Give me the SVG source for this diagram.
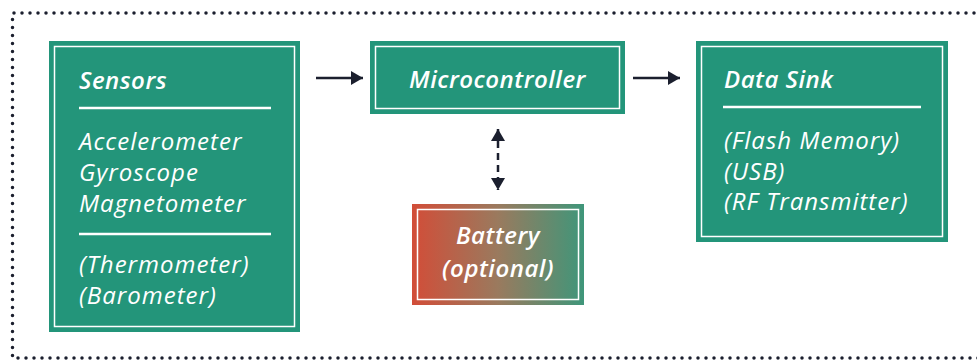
<svg xmlns="http://www.w3.org/2000/svg" width="977" height="360" viewBox="0 0 977 360">
  <defs>
    <linearGradient id="battGrad" x1="0" y1="0" x2="1" y2="0">
      <stop offset="0" stop-color="#d24d38"/>
      <stop offset="0.5" stop-color="#9a7a5e"/>
      <stop offset="1" stop-color="#3f967a"/>
    </linearGradient>
    <marker id="headBig" viewBox="0 0 12 14" refX="12" refY="7" markerWidth="12" markerHeight="14" markerUnits="userSpaceOnUse" orient="auto-start-reverse">
      <path d="M0,0 L12,7 L0,14 Z" fill="#1b1f2e"/>
    </marker>
  </defs>
  <style>
    .box { fill: #23957a; }
    .inner { fill: none; stroke: #ffffff; stroke-width: 1.5; }
    .rule { stroke: #ffffff; stroke-width: 2.5; }
    .title { font-family: "Open Sans", "Noto Sans", sans-serif; font-style: italic; font-weight: 600; font-size: 24px; letter-spacing: 0.5px; fill: #ffffff; }
    .item { font-family: "Open Sans", "Noto Sans", sans-serif; font-style: italic; font-weight: 400; font-size: 24px; letter-spacing: 1px; fill: #ffffff; }
    .frame { fill: none; stroke: #1b1f2e; stroke-width: 3.5; stroke-linecap: round; stroke-dasharray: 0 8; }
    .conn { fill: none; stroke: #1b1f2e; stroke-width: 2.5; }
    .dash { stroke-dasharray: 7 5; }
  </style>

  <!-- dotted outer frame -->
  <path class="frame" d="M990,13 L12.5,13 L12.5,358 L990,358"/>

  <!-- Sensors -->
  <g id="sensors">
    <rect class="box" x="49" y="41" width="251" height="291"/>
    <rect class="inner" x="54.5" y="46.5" width="240" height="280"/>
    <text class="title" x="79" y="89">Sensors</text>
    <line class="rule" x1="79" y1="108" x2="271" y2="108"/>
    <text class="item" x="79" y="150">Accelerometer</text>
    <text class="item" x="79" y="181">Gyroscope</text>
    <text class="item" x="79" y="212">Magnetometer</text>
    <line class="rule" x1="79" y1="234" x2="271" y2="234"/>
    <text class="item" x="79" y="273">(Thermometer)</text>
    <text class="item" x="79" y="304">(Barometer)</text>
  </g>

  <!-- Microcontroller -->
  <g id="microcontroller">
    <rect class="box" x="370" y="41" width="255" height="73"/>
    <rect class="inner" x="375.5" y="46.5" width="244" height="62"/>
    <text class="title" x="497.5" y="88" text-anchor="middle">Microcontroller</text>
  </g>

  <!-- Data Sink -->
  <g id="datasink">
    <rect class="box" x="696" y="41" width="252" height="201"/>
    <rect class="inner" x="701.5" y="46.5" width="241" height="190"/>
    <text class="title" x="724" y="88">Data Sink</text>
    <line class="rule" x1="723" y1="107" x2="921" y2="107"/>
    <text class="item" x="724" y="149">(Flash Memory)</text>
    <text class="item" x="724" y="180">(USB)</text>
    <text class="item" x="724" y="210">(RF Transmitter)</text>
  </g>

  <!-- Battery -->
  <g id="battery">
    <rect x="412" y="204" width="172" height="101" fill="url(#battGrad)"/>
    <rect class="inner" x="417.5" y="209.5" width="161" height="90"/>
    <text class="title" x="498" y="244" text-anchor="middle">Battery</text>
    <text class="title" x="498" y="277" text-anchor="middle">(optional)</text>
  </g>

  <!-- connectors -->
  <g id="connectors">
    <line class="conn" x1="316" y1="78" x2="363" y2="78" marker-end="url(#headBig)"/>
    <line class="conn" x1="633" y1="78" x2="680" y2="78" marker-end="url(#headBig)"/>
    <line class="conn dash" x1="498" y1="129" x2="498" y2="190" marker-start="url(#headBig)" marker-end="url(#headBig)"/>
  </g>
</svg>
